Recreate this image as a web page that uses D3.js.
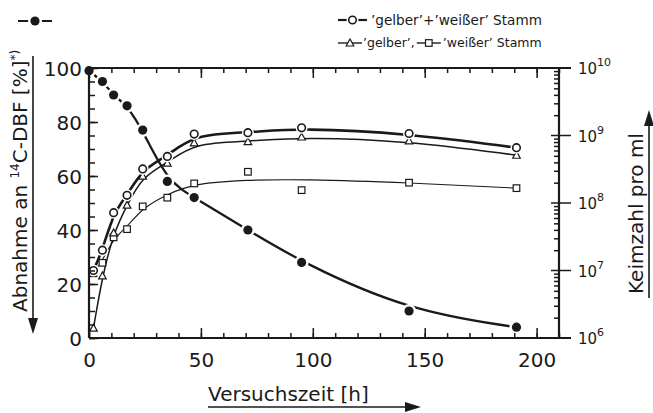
<!DOCTYPE html>
<html>
<head>
<meta charset="utf-8">
<script src="https://cdn.jsdelivr.net/npm/d3@7"></script>
<style>
  body { margin: 0; background: #fff; }
  text { font-family: "DejaVu Sans", sans-serif; fill: #1a1a1a; }
</style>
</head>
<body>
<svg id="chart" width="653" height="413"></svg>
<script>
// time axis [h]
const dbfHours = [0, 6, 11, 17, 24, 35, 47, 71, 95, 143, 191];
const dbfDecrease = [99, 95, 90, 86, 77, 58, 52, 40, 28, 10, 4]; // % (left axis)

const countHours = [2, 6, 11, 17, 24, 35, 47, 71, 95, 143, 191];
const mixedCount = [1.0e7, 2.0e7, 7.2e7, 1.3e8, 3.2e8, 4.9e8, 1.05e9, 1.1e9, 1.3e9, 1.07e9, 6.6e8];
const yellowCount = [1.4e6, 8.3e6, 3.6e7, 9.3e7, 2.5e8, 3.9e8, 7.8e8, 8.1e8, 9.5e8, 8.3e8, 5.1e8];
const whiteCount = [9.1e6, 1.3e7, 3.1e7, 4.1e7, 8.9e7, 1.2e8, 1.95e8, 2.9e8, 1.55e8, 2.0e8, 1.66e8];
// drawn fit line of the 'weißer' series
const whiteFit = [9.1e6, 1.4e7, 3.0e7, 4.4e7, 8.5e7, 1.35e8, 1.95e8, 2.2e8, 2.25e8, 2.0e8, 1.66e8];

const xTicks = [0, 50, 100, 150, 200];
const leftTicks = [0, 20, 40, 60, 80, 100];
const rightTicks = [1e6, 1e7, 1e8, 1e9, 1e10];

const ink = "#1a1a1a";
const svg = d3.select("#chart");

const x = d3.scaleLinear().domain([0, 210]).range([89, 559]);
const yL = d3.scaleLinear().domain([0, 100]).range([338, 68]);
const yR = d3.scaleLog().domain([1e6, 1e10]).range([338, 68]);

const x0 = x(0), x1 = x(210), yb = yL(0), yt = yL(100);

// ---- series ----
const line = d3.line().curve(d3.curveBasis);
const series = [
  { xs: countHours, ys: whiteCount, fit: whiteFit, y: yR, w: 1.1, shape: "square" },
  { xs: countHours, ys: yellowCount, y: yR, w: 1.5, shape: "triangle" },
  { xs: countHours, ys: mixedCount, y: yR, w: 2.6, shape: "circle" },
  { xs: dbfHours, ys: dbfDecrease, y: yL, w: 2.3, shape: "dot" }
];
series.forEach(s => {
  const vals = s.fit || s.ys;
  const pts = s.xs.map((h, i) => [x(h), s.y(vals[i])]);
  svg.append("path").attr("d", line(pts)).attr("fill", "none")
      .attr("stroke", ink).attr("stroke-width", s.w);
});
series.forEach(s => {
  const g = svg.append("g");
  s.xs.forEach((h, i) => drawMarker(g, s.shape, x(h), s.y(s.ys[i])));
});

function drawMarker(g, shape, px, py) {
  if (shape === "dot") {
    g.append("circle").attr("cx", px).attr("cy", py).attr("r", 7).attr("fill", "#fff");
    g.append("circle").attr("cx", px).attr("cy", py).attr("r", 4.6).attr("fill", ink);
  } else if (shape === "circle") {
    g.append("circle").attr("cx", px).attr("cy", py).attr("r", 6).attr("fill", "#fff");
    g.append("circle").attr("cx", px).attr("cy", py).attr("r", 3.8)
        .attr("fill", "#fff").attr("stroke", ink).attr("stroke-width", 1.6);
  } else if (shape === "triangle") {
    g.append("path").attr("d", `M${px},${py - 4}L${px + 3.8},${py + 3}L${px - 3.8},${py + 3}Z`)
        .attr("fill", "#fff").attr("stroke", ink).attr("stroke-width", 1.2);
  } else {
    g.append("rect").attr("x", px - 3.3).attr("y", py - 3.3).attr("width", 6.6).attr("height", 6.6)
        .attr("fill", "#fff").attr("stroke", ink).attr("stroke-width", 1.2);
  }
}

// ---- axes ----
// bottom
svg.append("g")
    .attr("transform", `translate(0,${yb})`)
    .call(d3.axisBottom(x).tickValues(d3.range(0, 211, 10)).tickSize(-5).tickFormat(""))
    .call(g => g.select(".domain").remove());
const bAxis = svg.append("g")
    .attr("transform", `translate(0,${yb})`)
    .call(d3.axisBottom(x).tickValues(xTicks).tickSize(-10).tickPadding(15).tickFormat(d3.format("d")));
bAxis.select(".domain").remove();
bAxis.selectAll("text").attr("font-size", 20).attr("font-family", "DejaVu Sans").attr("fill", ink);

// top
svg.append("g")
    .attr("transform", `translate(0,${yt})`)
    .call(d3.axisTop(x).tickValues(d3.range(0, 211, 10)).tickSize(-5).tickFormat(""))
    .call(g => g.select(".domain").remove());
svg.append("g")
    .attr("transform", `translate(0,${yt})`)
    .call(d3.axisTop(x).tickValues(xTicks).tickSize(-10).tickFormat(""))
    .call(g => g.select(".domain").remove());

// left
svg.append("g")
    .attr("transform", `translate(${x0},0)`)
    .call(d3.axisLeft(yL).tickValues(d3.range(0, 101, 5)).tickSize(-6).tickFormat(""))
    .call(g => g.select(".domain").remove());
const lAxis = svg.append("g")
    .attr("transform", `translate(${x0},0)`)
    .call(d3.axisLeft(yL).tickValues(leftTicks).tickSize(-9).tickPadding(7).tickFormat(d3.format("d")));
lAxis.select(".domain").remove();
lAxis.selectAll("text").attr("font-size", 20).attr("font-family", "DejaVu Sans").attr("fill", ink).attr("dy", "0.36em");

// right (log)
const minorLog = [];
for (let e = 6; e < 10; e++) for (let m = 2; m <= 9; m++) minorLog.push(m * Math.pow(10, e));
svg.append("g")
    .attr("transform", `translate(${x1},0)`)
    .call(d3.axisRight(yR).tickValues(minorLog).tickSize(-5).tickFormat(""))
    .call(g => g.select(".domain").remove());
svg.append("g").attr("class", "major").selectAll("line").data(rightTicks).join("line")
    .attr("x1", x1 - 8).attr("x2", x1 + 12)
    .attr("y1", d => yR(d)).attr("y2", d => yR(d));
const rl = svg.append("g").selectAll("text").data(rightTicks).join("text")
    .attr("x", x1 + 19).attr("y", d => yR(d) + 6).attr("font-size", 15);
rl.append("tspan").text("10");
rl.append("tspan").attr("dy", -8).attr("font-size", 11).text(d => Math.round(Math.log10(d)));

svg.selectAll(".tick line, .major line").attr("stroke", ink).attr("stroke-width", 1.5);

// frame
svg.append("path")
    .attr("d", `M${x0},${yt}H${x1 + 12}M${x0},${yb}H${x1 + 12}M${x0},${yt}V${yb}M${x1},${yt}V${yb}`)
    .attr("stroke", ink).attr("stroke-width", 2.2).attr("fill", "none");

// ---- axis titles ----
function arrowHead(cx, cy, dir) { // dir: "down" | "up" | "right"
  let d;
  if (dir === "down") d = `M${cx - 5},${cy - 16}L${cx + 5},${cy - 16}L${cx},${cy}Z`;
  else if (dir === "up") d = `M${cx - 5},${cy + 16}L${cx + 5},${cy + 16}L${cx},${cy}Z`;
  else d = `M${cx - 16},${cy - 5}L${cx - 16},${cy + 5}L${cx},${cy}Z`;
  svg.append("path").attr("d", d).attr("fill", ink);
}

// x title
svg.append("text").attr("x", 208).attr("y", 401).attr("font-size", 20).text("Versuchszeit [h]");
svg.append("line").attr("x1", 208).attr("x2", 408).attr("y1", 407).attr("y2", 407)
    .attr("stroke", ink).attr("stroke-width", 1.6);
arrowHead(421, 407, "right");

// left title
const lt = svg.append("text").attr("transform", "translate(27,312) rotate(-90)").attr("font-size", 20);
lt.append("tspan").text("Abnahme an ");
lt.append("tspan").attr("font-size", 12).attr("dy", -8).text("14");
lt.append("tspan").attr("dy", 8).text("C-DBF [%]");
lt.append("tspan").attr("font-size", 12).attr("dy", -8).text("*)");
svg.append("line").attr("x1", 33).attr("x2", 33).attr("y1", 56).attr("y2", 320)
    .attr("stroke", ink).attr("stroke-width", 1.6);
arrowHead(33, 334, "down");

// right title
svg.append("text").attr("transform", "translate(643,294) rotate(-90)").attr("font-size", 20)
    .text("Keimzahl pro ml");
svg.append("line").attr("x1", 649).attr("x2", 649).attr("y1", 298).attr("y2", 124)
    .attr("stroke", ink).attr("stroke-width", 1.6);
arrowHead(649, 110, "up");

// ---- legends ----
function legendItem(g, lx, ly, shape, len) {
  g.append("line").attr("x1", lx).attr("x2", lx + len).attr("y1", ly).attr("y2", ly)
      .attr("stroke", ink).attr("stroke-width", shape === "circle" || shape === "dot" ? 2.2 : 1.4);
  drawMarker(g, shape, lx + len / 2, ly);
}
const lg = svg.append("g");
legendItem(lg, 18, 21, "dot", 34);
legendItem(lg, 338, 20, "circle", 29);
lg.append("text").attr("x", 371).attr("y", 25).attr("font-size", 13.6)
    .text("’gelber’+’weißer’ Stamm");
legendItem(lg, 338, 43, "triangle", 24);
const t1 = lg.append("text").attr("x", 363).attr("y", 47).attr("font-size", 12.5).text("’gelber’,");
const w1 = t1.node().getComputedTextLength();
legendItem(lg, 363 + w1 + 2, 43, "square", 24);
lg.append("text").attr("x", 363 + w1 + 28).attr("y", 47).attr("font-size", 12.5).text("’weißer’ Stamm");
</script>
</body>
</html>
